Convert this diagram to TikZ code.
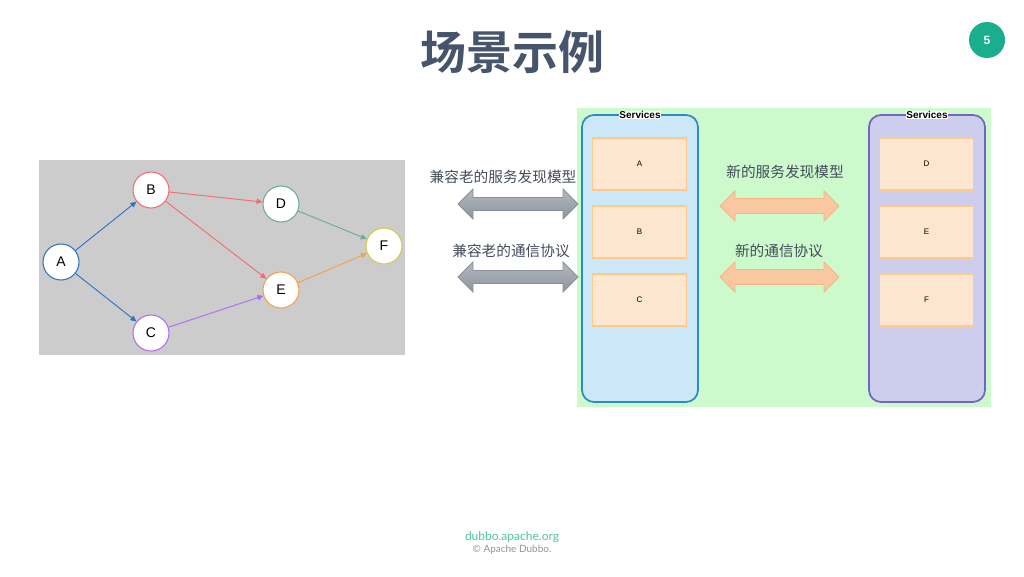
\documentclass[tikz,border=0pt]{standalone}
\usepackage{fontspec}
\setmainfont{Liberation Sans}
\newfontfamily\cjk{Noto Sans CJK SC}
\newfontfamily\cjkb{Noto Sans CJK SC Bold}
\newfontfamily\lato{Lato}
\usetikzlibrary{arrows.meta}
\definecolor{titlec}{HTML}{46556B}
\definecolor{teal}{HTML}{1AAE8F}
\definecolor{footteal}{HTML}{4FC2A2}
\definecolor{panelgrey}{HTML}{CCCCCC}
\definecolor{cA}{HTML}{2F74C6}
\definecolor{cB}{HTML}{F26D6D}
\definecolor{cC}{HTML}{B06CF0}
\definecolor{cD}{HTML}{6DAE92}
\definecolor{cE}{HTML}{F5A04C}
\definecolor{cF}{HTML}{D4CB4E}
\definecolor{greenbg}{HTML}{CCFACC}
\definecolor{bluebg}{HTML}{CCE8F8}
\definecolor{blueln}{HTML}{2B8CBF}
\definecolor{purbg}{HTML}{CDCDEE}
\definecolor{purln}{HTML}{7563C0}
\definecolor{boxbg}{HTML}{FDE6CF}
\definecolor{boxln}{HTML}{FFC98A}
\definecolor{greytop}{HTML}{B4B9C0}
\definecolor{greybot}{HTML}{8E949C}
\definecolor{greyarrln}{HTML}{8A9099}
\definecolor{orarr}{HTML}{F9C8A0}
\definecolor{orarrln}{HTML}{F6B585}
\definecolor{labc}{HTML}{444C5A}
\definecolor{footgrey}{HTML}{8F949C}
\tikzset{
  gnode/.style={circle, draw, fill=white, line width=0.8pt, minimum size=27pt, inner sep=0pt, font=\fontsize{10.5}{12}\selectfont},
  gedge/.style={line width=0.7pt, -{Triangle[length=4.5pt,width=4pt]}},
  svcbox/.style={rectangle, draw=boxln, fill=boxbg, line width=0.8pt, minimum width=71pt, minimum height=39pt, inner sep=0pt, font=\fontsize{6}{7}\selectfont},
  svclabel/.style={fill=white, inner sep=0.6pt, font=\bfseries\fontsize{7.5}{8}\selectfont},
  cnlabel/.style={font=\cjk\fontsize{11}{12}\selectfont, text=labc},
}
\begin{document}
\begin{tikzpicture}[x=0.75pt,y=-0.75pt]
\useasboundingbox (0,0) rectangle (1024,576);
% title
\node[font=\cjkb\fontsize{34.5}{38}\selectfont, text=titlec] (title) at (512,52) {场景示例};
\node[circle, fill=teal, minimum size=27pt, inner sep=0pt, text=white, font=\bfseries\fontsize{9}{10}\selectfont] (pg) at (987,40) {5};
% left graph panel
\fill[panelgrey] (39,160) rectangle (405,355);
\node[gnode, draw=cA] (A) at (61,262) {A};
\node[gnode, draw=cB] (B) at (151,190) {B};
\node[gnode, draw=cC] (C) at (151,333) {C};
\node[gnode, draw=cD] (D) at (281,204) {D};
\node[gnode, draw=cE] (E) at (281,290) {E};
\node[gnode, draw=cF] (F) at (384,246) {F};
\draw[gedge, cA] (A) -- (B);
\draw[gedge, cA] (A) -- (C);
\draw[gedge, cB] (B) -- (D);
\draw[gedge, cB] (B) -- (E);
\draw[gedge, cC] (C) -- (E);
\draw[gedge, cD] (D) -- (F);
\draw[gedge, cE] (E) -- (F);
% green panel
\fill[greenbg] (577,108) rectangle (991,407);
% containers
\draw[blueln, fill=bluebg, line width=1.3pt, rounded corners=9pt] (582,115) rectangle (698,402);
\draw[purln, fill=purbg, line width=1.3pt, rounded corners=9pt] (869,115) rectangle (985,402);
\node[svclabel] (s1) at (640,115) {Services};
\node[svclabel] (s2) at (927,115) {Services};
\node[svcbox] (bA) at (639.5,164) {A};
\node[svcbox] (bB) at (639.5,232) {B};
\node[svcbox] (bC) at (639.5,300) {C};
\node[svcbox] (bD) at (926.5,164) {D};
\node[svcbox] (bE) at (926.5,232) {E};
\node[svcbox] (bF) at (926.5,300) {F};
% grey double arrows
\foreach \yc in {204,277}{
  \draw[greyarrln, top color=greytop, bottom color=greybot, line width=0.6pt]
    (458,\yc) -- (473,\yc-15) -- (473,\yc-6.5) -- (563,\yc-6.5) -- (563,\yc-15) -- (578,\yc)
    -- (563,\yc+15) -- (563,\yc+6.5) -- (473,\yc+6.5) -- (473,\yc+15) -- cycle;
}
% orange double arrows
\foreach \yc in {206,277}{
  \draw[orarrln, fill=orarr, line width=0.6pt]
    (720,\yc) -- (735,\yc-15) -- (735,\yc-7.5) -- (824,\yc-7.5) -- (824,\yc-15) -- (839,\yc)
    -- (824,\yc+15) -- (824,\yc+7.5) -- (735,\yc+7.5) -- (735,\yc+15) -- cycle;
}
\node[cnlabel] (l1) at (503,177) {兼容老的服务发现模型};
\node[cnlabel] (l2) at (511,251) {兼容老的通信协议};
\node[cnlabel] (l3) at (785,172) {新的服务发现模型};
\node[cnlabel] (l4) at (779,251) {新的通信协议};
% footer
\node[font=\lato\fontsize{9}{10}\selectfont, text=footteal] (f1) at (512,537) {dubbo.apache.org};
\node[font=\lato\fontsize{7.5}{8}\selectfont, text=footgrey] (f2) at (512,550) {© Apache Dubbo.};
\end{tikzpicture}
\end{document}
